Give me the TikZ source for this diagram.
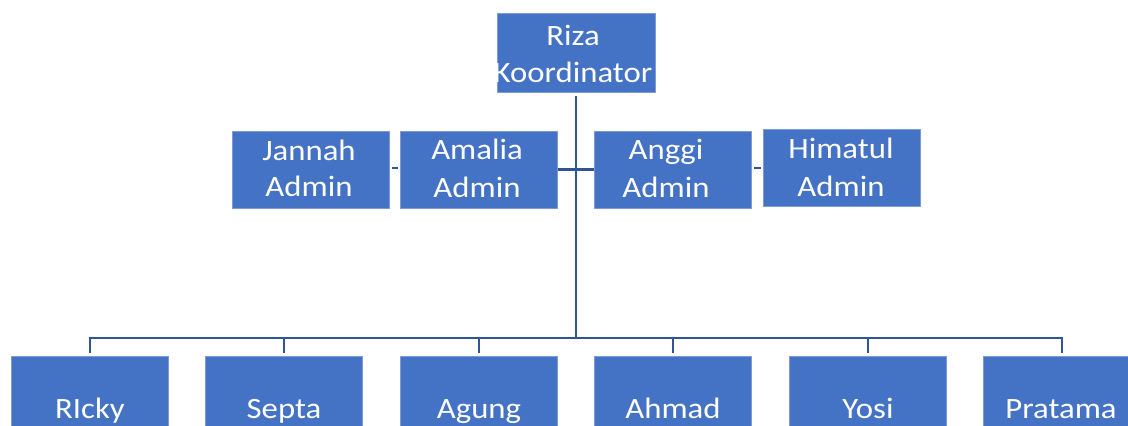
\documentclass[tikz,border=0pt]{standalone}
\usepackage{fontspec}
\setmainfont{Carlito}
\newfontfamily\lblfont[FakeStretch=1.11]{Carlito}
\definecolor{boxfill}{RGB}{68,114,196}
\definecolor{boxedge}{RGB}{125,155,212}
\definecolor{connc}{RGB}{47,85,151}
\begin{document}
\begin{tikzpicture}[x=1pt,y=-1pt,
  box/.style={rectangle, fill=boxfill, draw=boxedge, line width=0.8pt, inner sep=0pt, minimum width=157pt, minimum height=77pt},
  lbl/.style={anchor=base, inner sep=0pt, text=white, font=\lblfont\fontsize{29.5}{35}\selectfont},
  connline/.style={draw=connc, line width=2.4pt},
  tickline/.style={draw=connc, line width=2pt}]
\useasboundingbox (0,0) rectangle (1128,426);
% boxes
\node[box, minimum width=158pt, minimum height=79pt] (riza) at (576,52.5) {};
\node[box] (jannah)  at (311,169.5) {};
\node[box] (amalia)  at (479,169.5) {};
\node[box] (anggi)   at (673,169.5) {};
\node[box] (himatul) at (842,168) {};
\foreach \n/\x in {ricky/89.5, septa/284, agung/479, ahmad/673, yosi/868, pratama/1062}
  \node[box, minimum height=100pt] (\n) at (\x,406) {};
% texts
\node[lbl] (t1) at (573,45) {Riza};
\node[lbl] (t2) at (573,82) {Koordinator};
\node[lbl] (t3) at (309,160) {Jannah};
\node[lbl] (t4) at (309,196) {Admin};
\node[lbl] (t5) at (477,159) {Amalia};
\node[lbl] (t6) at (477,197) {Admin};
\node[lbl] (t7) at (666,159) {Anggi};
\node[lbl] (t8) at (666,197) {Admin};
\node[lbl] (t9) at (841,158) {Himatul};
\node[lbl] (t10) at (841,196) {Admin};
\node[lbl] (b1) at (90,418) {RIcky};
\node[lbl] (b2) at (284,418) {Septa};
\node[lbl] (b3) at (479,418) {Agung};
\node[lbl] (b4) at (673,418) {Ahmad};
\node[lbl] (b5) at (868,418) {Yosi};
\node[lbl] (b6) at (1061,418) {Pratama};
% connectors
\coordinate (bus) at (576,338);
\draw[connline, shorten <=4pt] (riza.south) -- (riza.south |- bus);
\draw[tickline] ([xshift=-1pt]bus -| ricky) -- ([xshift=1pt]bus -| pratama);
\foreach \n in {ricky, septa, agung, ahmad, yosi, pratama}
  \draw[tickline, shorten >=2.5pt] (bus -| \n) -- (\n.north);
\draw[connline] (amalia) -- (anggi);
\draw[tickline, shorten <=2.5pt, shorten >=2.5pt] ([yshift=1.5pt]jannah.east) -- ([yshift=1.5pt]amalia.west);
\draw[tickline, shorten <=2.5pt, shorten >=2.5pt] (himatul.west -| anggi.east) -- (himatul.west);
\end{tikzpicture}
\end{document}
